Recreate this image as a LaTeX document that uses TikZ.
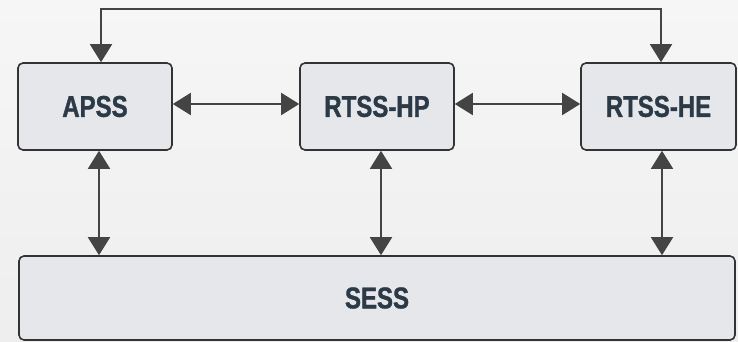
\documentclass[tikz,border=0pt]{standalone}
\usepackage{fontspec}
\setmainfont{Liberation Sans}
\newfontfamily\labelfont[FakeStretch=0.8, FakeBold=1.2]{Liberation Sans Bold}
\usetikzlibrary{arrows.meta}
\definecolor{bgtop}{HTML}{F6F6F6}
\definecolor{bgbot}{HTML}{EEEEEE}
\definecolor{boxfill}{HTML}{E5E7EA}
\definecolor{boxline}{HTML}{333333}
\definecolor{labelcol}{HTML}{2C3A47}
\definecolor{linkcol}{HTML}{444444}
\tikzset{
  unit/.style={draw=boxline, line width=1.6pt, fill=boxfill, rounded corners=5pt,
    text=labelcol, font=\labelfont\fontsize{30}{34}\selectfont,
    minimum height=87pt, inner sep=0pt},
  link/.style={draw=linkcol, line width=1.8pt,
    {Triangle[length=18pt,width=22pt]}-{Triangle[length=18pt,width=22pt]}}
}
\begin{document}
\begin{tikzpicture}[x=1pt,y=-1pt]
  % canvas
  \shade[top color=bgtop, bottom color=bgbot] (0,0) rectangle (738,342);
  \useasboundingbox (0,0) rectangle (738,342);

  % subsystems
  \node[unit, minimum width=154pt] (apss) at (95,106.5) {APSS};
  \node[unit, minimum width=154pt] (hp)   at (377,106.5) {RTSS-HP};
  \node[unit, minimum width=155pt] (he)   at (658.5,106.5) {RTSS-HE};
  \node[unit, minimum width=716pt, minimum height=84pt] (sess) at (377,298) {SESS};

  % link columns
  \coordinate (ca) at (99,0);
  \coordinate (ch) at (381,0);
  \coordinate (ce) at (662,0);
  \coordinate (row) at (0,104);
  \coordinate (topa) at (101,9);
  \coordinate (tope) at (661,9);

  % horizontal links
  \draw[link] (apss.east |- row) -- (hp.west |- row);
  \draw[link] (hp.east |- row) -- (he.west |- row);

  % links down to SESS
  \draw[link] (apss.south -| ca) -- (sess.north -| ca);
  \draw[link] (hp.south -| ch) -- (sess.north -| ch);
  \draw[link] (he.south -| ce) -- (sess.north -| ce);

  % loop over the top
  \draw[link] (apss.north -| topa) -- (topa) -- (tope) -- (he.north -| tope);
\end{tikzpicture}
\end{document}
